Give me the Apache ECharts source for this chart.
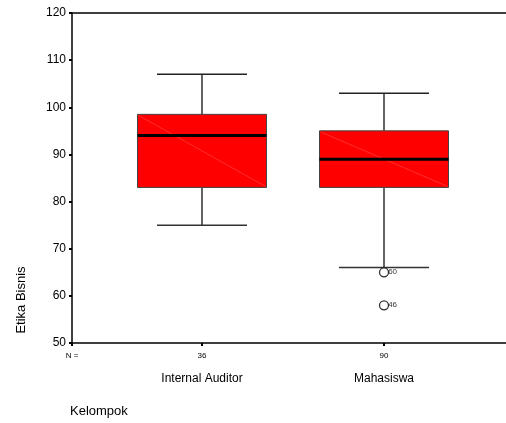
<!DOCTYPE html>
<html><head><meta charset="utf-8">
<script src="https://cdn.jsdelivr.net/npm/echarts@6/dist/echarts.min.js"></script>
<style>html,body{margin:0;padding:0;background:#fff}#c{width:506px;height:423px}</style>
</head><body><div id="c"></div>
<script>
var categories = ['Internal Auditor', 'Mahasiswa'];
var counts = [36, 90];
var lowWhisker = [75, 66];
var q1 = [83, 83];
var median = [94, 89];
var q3 = [98.5, 95];
var highWhisker = [107, 103];
var outlierPos = [2, 2];
var outlierVal = [65, 58];
var outlierLabel = ['60', '46'];
var yTicks = [50, 60, 70, 80, 90, 100, 110, 120];

var F = 'Liberation Sans, Arial, sans-serif';
var xMin = 1 - 130 / 182, xMax = 1 + 304 / 182;
var boxData = categories.map(function (c, i) {
  return [i + 1, lowWhisker[i], q1[i], median[i], q3[i], highWhisker[i]];
});
var outData = outlierVal.map(function (v, i) { return [outlierPos[i], v, outlierLabel[i]]; });

var chart = echarts.init(document.getElementById('c'));
chart.setOption({
  animation: false,
  grid: { left: 72, right: 0, top: 13, bottom: 80, show: false },
  xAxis: [{
    type: 'value', min: xMin, max: xMax, position: 'bottom',
    splitLine: { show: false },
    axisLine: { show: true, onZero: false, lineStyle: { color: '#000', width: 1.5 } },
    axisTick: { show: true, customValues: [xMin, 1, 2], length: 3, lineStyle: { color: '#000', width: 2 } },
    axisLabel: {
      show: true, customValues: [xMin, 1, 2], margin: 6, color: '#000', fontFamily: F,
      formatter: function (v) {
        if (Math.abs(v - xMin) < 1e-6) return '{n|N =}';
        var i = Math.round(v) - 1;
        return '{n|' + counts[i] + '}\n{c|' + categories[i] + '}';
      },
      rich: {
        n: { fontSize: 8, fontFamily: F, color: '#000', lineHeight: 14 },
        c: { fontSize: 12, fontFamily: F, color: '#000', lineHeight: 22, verticalAlign: 'bottom' }
      }
    }
  }, {
    type: 'value', min: xMin, max: xMax, position: 'top',
    splitLine: { show: false },
    axisLine: { show: true, onZero: false, lineStyle: { color: '#000', width: 1.5 } },
    axisTick: { show: false }, axisLabel: { show: false }
  }],
  yAxis: {
    type: 'value', min: 50, max: 120, interval: 10,
    splitLine: { show: false },
    axisLine: { show: true, lineStyle: { color: '#000', width: 1.5 } },
    axisTick: { show: true, length: 3, lineStyle: { color: '#000', width: 2 } },
    axisLabel: { color: '#000', fontSize: 12, fontFamily: F, margin: 6,
      customValues: yTicks }
  },
  graphic: [
    { type: 'text', left: 70, top: 405, style: { text: 'Kelompok', font: '13px ' + F, fill: '#000' } },
    { type: 'text', x: 21, y: 300, rotation: Math.PI / 2, style: { text: 'Etika Bisnis', font: '13px ' + F, fill: '#000', align: 'center', verticalAlign: 'middle' } }
  ],
  series: [
    {
      type: 'custom',
      data: boxData,
      encode: { x: 0, y: [1, 2, 3, 4, 5] },
      renderItem: function (params, api) {
        var x = api.value(0);
        var hw = 64.5 / 182, cw = 45 / 182;
        var pLo = api.coord([x, api.value(1)]);
        var pQ1 = api.coord([x, api.value(2)]);
        var pMed = api.coord([x, api.value(3)]);
        var pQ3 = api.coord([x, api.value(4)]);
        var pHi = api.coord([x, api.value(5)]);
        var left = api.coord([x - hw, 0])[0], right = api.coord([x + hw, 0])[0];
        var cl = api.coord([x - cw, 0])[0], cr = api.coord([x + cw, 0])[0];
        var ls = { stroke: '#111', lineWidth: 1.3 };
        return { type: 'group', children: [
          { type: 'line', shape: { x1: pHi[0], y1: pHi[1], x2: pQ3[0], y2: pQ3[1] }, style: ls },
          { type: 'line', shape: { x1: pLo[0], y1: pLo[1], x2: pQ1[0], y2: pQ1[1] }, style: ls },
          { type: 'line', shape: { x1: cl, y1: pHi[1], x2: cr, y2: pHi[1] }, style: { stroke: '#222', lineWidth: 1.5 } },
          { type: 'line', shape: { x1: cl, y1: pLo[1], x2: cr, y2: pLo[1] }, style: { stroke: '#333', lineWidth: 1.5 } },
          { type: 'rect', shape: { x: left, y: pQ3[1], width: right - left, height: pQ1[1] - pQ3[1] }, style: { fill: '#ff0000', stroke: '#444', lineWidth: 1 } },
          { type: 'line', shape: { x1: left + 1, y1: pQ3[1] + 1, x2: right - 1, y2: pQ1[1] - 1 }, style: { stroke: '#ff5a5a', lineWidth: 0.5 } },
          { type: 'line', shape: { x1: left, y1: pMed[1], x2: right, y2: pMed[1] }, style: { stroke: '#000', lineWidth: 3 } }
        ] };
      }
    },
    {
      type: 'scatter',
      data: outData,
      symbol: 'circle', symbolSize: 9,
      itemStyle: { color: '#fff', borderColor: '#000', borderWidth: 1.3 },
      label: { show: true, position: 'right', distance: -1, fontSize: 8, fontFamily: F, color: '#000',
        formatter: function (p) { return p.value[2]; } },
      z: 5
    }
  ]
});
</script></body></html>
